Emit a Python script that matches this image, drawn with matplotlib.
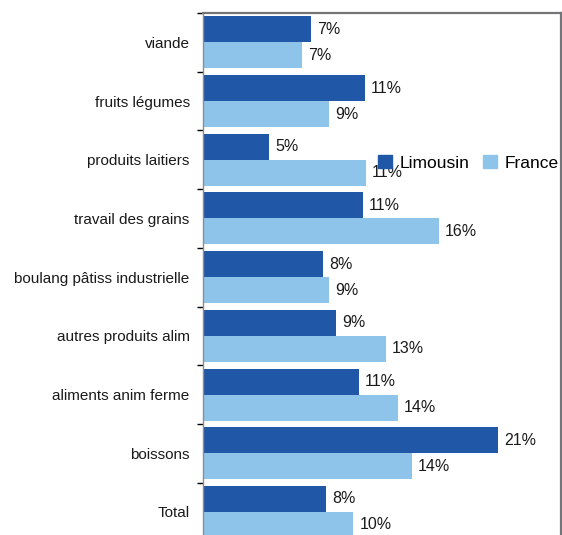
import matplotlib
matplotlib.use("Agg")
import matplotlib.pyplot as plt
from matplotlib.patches import Patch

plt.rcParams['font.family'] = ['Liberation Sans', 'DejaVu Sans']

categories = ["viande", "fruits légumes", "produits laitiers", "travail des grains",
              "boulang pâtiss industrielle", "autres produits alim",
              "aliments anim ferme", "boissons", "Total"]
limousin = [7.6, 11.4, 4.7, 11.3, 8.5, 9.4, 11.0, 20.8, 8.7]
france = [7.0, 8.9, 11.5, 16.6, 8.9, 12.9, 13.75, 14.7, 10.6]
limousin_lbl = ["7%", "11%", "5%", "11%", "8%", "9%", "11%", "21%", "8%"]
france_lbl = ["7%", "9%", "11%", "16%", "9%", "13%", "14%", "14%", "10%"]

c_lim = "#2057a7"
c_fra = "#8ec3ea"

fig = plt.figure(figsize=(5.62, 5.35), dpi=100)
ax = fig.add_axes([202.7 / 562, 1 - 541.3 / 535, 358 / 562, 528.3 / 535])

y = list(range(len(categories)))
h = 0.443
b1 = ax.barh([i - h / 2 for i in y], limousin, height=h, color=c_lim)
b2 = ax.barh([i + h / 2 for i in y], france, height=h, color=c_fra)

for bars, labels in ((b1, limousin_lbl), (b2, france_lbl)):
    for rect, lab in zip(bars, labels):
        ax.annotate(lab, (rect.get_width(), rect.get_y() + rect.get_height() / 2),
                    xytext=(4.3, 0), textcoords="offset points",
                    ha="left", va="center", fontsize=11.5, color="#1a1a1a")

ax.set_ylim(8.5, -0.5)
ax.set_xlim(0, 25.2)
ax.set_yticks(y)
ax.set_yticklabels(categories, fontsize=11, color="#1a1a1a")
ax.set_yticks([i - 0.5 for i in range(len(categories) + 1)], minor=True)
ax.tick_params(axis="y", which="major", length=0, pad=9.4)
ax.tick_params(axis="y", which="minor", length=4.3, width=1, color="black")
ax.set_xticks([])

ax.spines["bottom"].set_visible(False)
ax.spines["left"].set_color("#8c8c8c")
ax.spines["left"].set_linewidth(1)
for s in ("top", "right"):
    ax.spines[s].set_color("#737578")
    ax.spines[s].set_linewidth(1.6)

handles = [Patch(color=c_lim, label="Limousin"), Patch(color=c_fra, label="France")]
fig.legend(handles=handles, loc="center left", bbox_to_anchor=(378 / 562, 1 - 163 / 535),
           frameon=False, ncol=2, fontsize=12.5, handlelength=0.8, handleheight=0.8,
           handletextpad=0.44, columnspacing=0.8, borderpad=0, borderaxespad=0)

fig.savefig("out.png", dpi=100)
